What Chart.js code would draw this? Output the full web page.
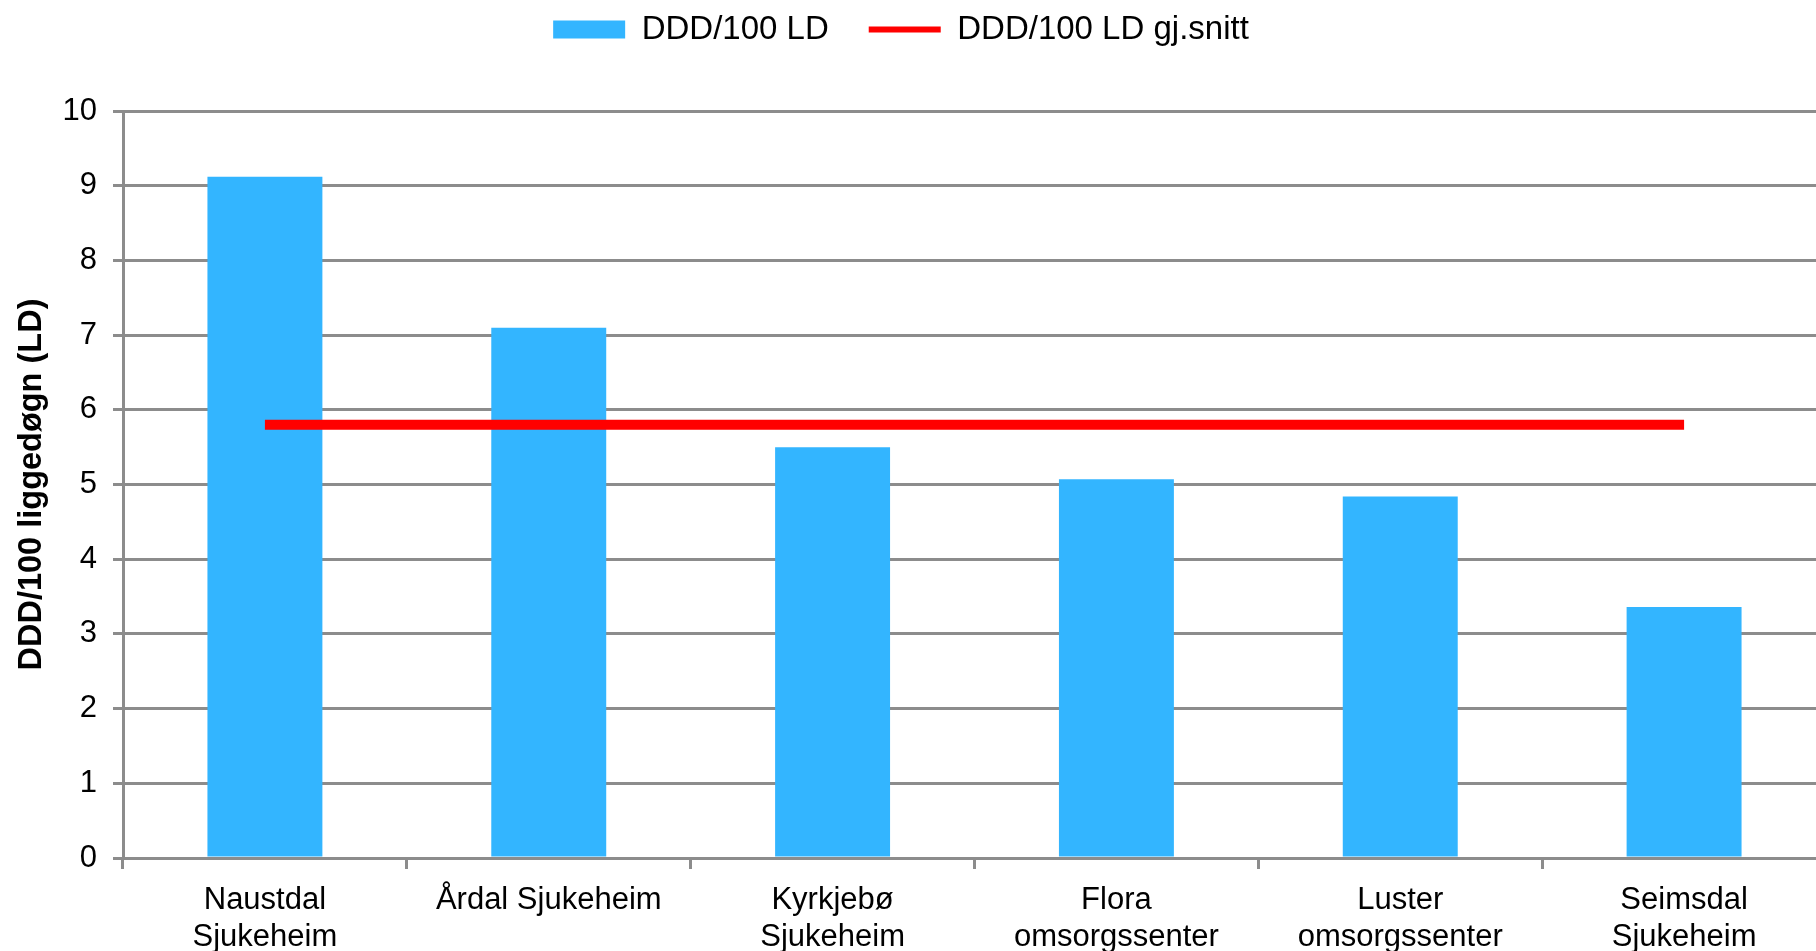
<!DOCTYPE html>
<html>
<head>
<meta charset="utf-8">
<script src="https://cdn.jsdelivr.net/npm/chart.js@4"></script>
<style>
  html, body { margin: 0; padding: 0; overflow: hidden; background: #fff; }
  #wrap { width: 1826px; height: 962px; }
</style>
</head>
<body>
<div id="wrap"><canvas id="chart" width="1826" height="962"></canvas></div>
<script>
// institusjonar og verdiar lest av biletet
const institusjonar = [
  ['Naustdal', 'Sjukeheim'],
  'Årdal Sjukeheim',
  ['Kyrkjebø', 'Sjukeheim'],
  ['Flora', 'omsorgssenter'],
  ['Luster', 'omsorgssenter'],
  ['Seimsdal', 'Sjukeheim']
];
const dddPer100 = [9.12, 7.1, 5.5, 5.07, 4.84, 3.36];
const snitt = [5.8, 5.8, 5.8, 5.8, 5.8, 5.8];
const yTicks = [0, 1, 2, 3, 4, 5, 6, 7, 8, 9, 10];

const grid = '#8c8c8c';
const font = 'Liberation Sans, Arial, sans-serif';

// fast høgd på forklaringa så plottet startar rett stad
const legendSpace = {
  id: 'legendSpace',
  beforeInit(chart) {
    const fit = chart.legend.fit;
    chart.legend.fit = function () {
      fit.bind(chart.legend)();
      this.height = 138;
    };
  }
};

new Chart(document.getElementById('chart'), {
  type: 'bar',
  data: {
    labels: institusjonar,
    datasets: [{
      label: 'DDD/100 LD',
      data: dddPer100,
      backgroundColor: '#33b5ff',
      borderWidth: 0,
      barPercentage: 0.405,
      categoryPercentage: 1,
      pointStyle: 'rect',
      order: 1
    }, {
      type: 'line',
      label: 'DDD/100 LD gj.snitt',
      data: snitt,
      borderColor: '#ff0000',
      backgroundColor: '#ff0000',
      borderWidth: 10,
      pointRadius: 0,
      pointStyle: 'line',
      order: 0
    }]
  },
  options: {
    responsive: false,
    animation: false,
    layout: { padding: { top: -27, left: -24, right: 0, bottom: 0 } },
    plugins: {
      tooltip: { enabled: false },
      legend: {
        position: 'top',
        labels: {
          usePointStyle: true,
          pointStyleWidth: 72,
          boxHeight: 18,
          padding: 40,
          color: '#000',
          font: { family: font, size: 33 },
          sort: (a, b) => a.datasetIndex - b.datasetIndex,
          generateLabels(chart) {
            const items = Chart.defaults.plugins.legend.labels.generateLabels(chart);
            items.forEach(it => { it.lineWidth = it.pointStyle === 'line' ? 6 : 0; });
            return items;
          }
        }
      }
    },
    scales: {
      x: {
        grid: { display: true, drawOnChartArea: false, drawTicks: true, tickLength: 11, color: grid, lineWidth: 3, offset: true },
        border: { display: true, color: grid, width: 3 },
        ticks: { color: '#000', font: { family: font, size: 31 }, padding: 13, maxRotation: 0, autoSkip: false },
        afterFit(scale) { scale.height = 104; }
      },
      y: {
        min: 0,
        max: 10,
        afterBuildTicks(scale) { scale.ticks = yTicks.map(v => ({ value: v })); },
        grid: { color: grid, lineWidth: 3, drawTicks: true, tickLength: 10 },
        border: { display: true, color: grid, width: 3 },
        ticks: { color: '#000', font: { family: font, size: 31 }, padding: 16 },
        title: {
          display: true,
          text: 'DDD/100 liggedøgn (LD)',
          color: '#000',
          font: { family: font, size: 32.5, weight: 'bold' },
          padding: { top: 37, bottom: 0 }
        },
        afterFit(scale) { scale.width = 147; }
      }
    }
  },
  plugins: [legendSpace]
});
</script>
</body>
</html>
